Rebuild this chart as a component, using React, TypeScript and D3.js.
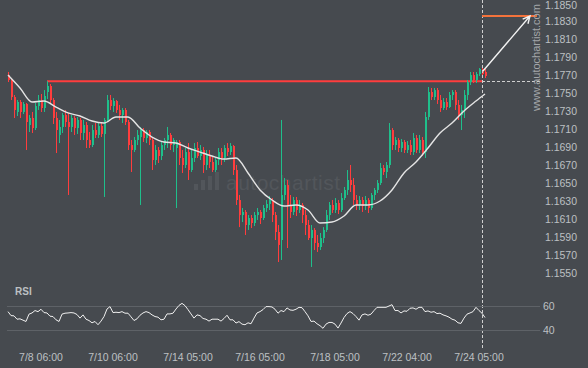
import * as d3 from "d3";

// 2h EUR/USD bars, 7/8 - 7/24
const opens = [
  1.17706, 1.17651, 1.17461, 1.17295, 1.17406, 1.17295, 1.17384, 1.1715, 1.17228, 1.17116,
  1.17361, 1.17428, 1.17339, 1.17517, 1.17584, 1.17428, 1.17228, 1.17039, 1.17128, 1.17261,
  1.17183, 1.17128, 1.17228, 1.17116, 1.17206, 1.17061, 1.1715, 1.16983, 1.16927, 1.17094,
  1.17039, 1.17139, 1.1705, 1.17206, 1.17428, 1.17361, 1.17417, 1.17317, 1.17261, 1.17317,
  1.17183, 1.16927, 1.16872, 1.16983, 1.17016, 1.17094, 1.17005, 1.17072, 1.16983, 1.1676,
  1.16872, 1.16805, 1.16927, 1.16983, 1.17039, 1.16927, 1.16894, 1.16961, 1.16783, 1.16705,
  1.16849, 1.16649, 1.16783, 1.16894, 1.16805, 1.16872, 1.16705, 1.16816, 1.16738, 1.16649,
  1.1676, 1.16849, 1.16783, 1.16894, 1.16849, 1.16916, 1.16649, 1.16315, 1.16148, 1.16182,
  1.16037, 1.16115, 1.16059, 1.16148, 1.16182, 1.16115, 1.16226, 1.16271, 1.16315, 1.16148,
  1.15959, 1.1587, 1.16371, 1.16482, 1.1626, 1.16182, 1.16315, 1.16204, 1.1626, 1.16148,
  1.16037, 1.15892, 1.15982, 1.15837, 1.15792, 1.15892, 1.15982, 1.16148, 1.1626, 1.16204,
  1.16282, 1.16204, 1.16337, 1.16427, 1.16538, 1.16482, 1.16315, 1.1626, 1.16315, 1.16248,
  1.16315, 1.16226, 1.16371, 1.16427, 1.16504, 1.16671, 1.16627, 1.16705, 1.17094, 1.16927,
  1.16983, 1.16894, 1.16961, 1.16872, 1.16927, 1.16849, 1.17005, 1.16872, 1.16983, 1.16849,
  1.17239, 1.17517, 1.17461, 1.17539, 1.17428, 1.17339, 1.17406, 1.1735, 1.17484, 1.17517,
  1.17373, 1.17261, 1.17317, 1.17484, 1.17628, 1.17706, 1.17651, 1.17717, 1.17773, 1.1774,
];
const highs = [
  1.1774, 1.17673, 1.17484, 1.17428, 1.17428, 1.17406, 1.17395, 1.17261, 1.17295, 1.17395,
  1.17484, 1.17495, 1.17539, 1.17637, 1.17606, 1.1745, 1.17295, 1.17206, 1.17284, 1.17317,
  1.17284, 1.17261, 1.1725, 1.17239, 1.17228, 1.17206, 1.17183, 1.17072, 1.1715, 1.17172,
  1.17183, 1.17172, 1.17228, 1.17484, 1.17484, 1.1745, 1.17428, 1.17373, 1.17339, 1.17339,
  1.17206, 1.16983, 1.17016, 1.17094, 1.17128, 1.17116, 1.17094, 1.17094, 1.17005, 1.16927,
  1.16905, 1.16961, 1.17005, 1.17128, 1.17061, 1.17005, 1.16983, 1.16983, 1.16872, 1.16894,
  1.16949, 1.16872, 1.16949, 1.16961, 1.16927, 1.16905, 1.16872, 1.16872, 1.16794, 1.16794,
  1.16894, 1.16894, 1.16927, 1.16949, 1.16949, 1.16927, 1.16705, 1.16371, 1.16226, 1.16204,
  1.16148, 1.16148, 1.16182, 1.16226, 1.16204, 1.1626, 1.16315, 1.1636, 1.16337, 1.16182,
  1.16037, 1.17206, 1.1656, 1.16538, 1.16371, 1.16349, 1.16349, 1.16315, 1.16282, 1.16204,
  1.16093, 1.16037, 1.16003, 1.15926, 1.15948, 1.16014, 1.16204, 1.16293, 1.16315, 1.16337,
  1.16315, 1.16393, 1.1646, 1.16649, 1.16705, 1.1656, 1.16371, 1.1636, 1.16349, 1.1636,
  1.16337, 1.16393, 1.16449, 1.16538, 1.16727, 1.16705, 1.16738, 1.17172, 1.17116, 1.17016,
  1.17005, 1.16994, 1.16983, 1.16972, 1.16983, 1.17061, 1.17039, 1.17039, 1.17016, 1.17295,
  1.17573, 1.17562, 1.17562, 1.17562, 1.17484, 1.1745, 1.1745, 1.17517, 1.17539, 1.17539,
  1.17428, 1.17373, 1.17539, 1.17651, 1.1774, 1.1774, 1.1774, 1.17784, 1.17784, 1.17773,
];
const lows = [
  1.17628, 1.17428, 1.17228, 1.1725, 1.17228, 1.17272, 1.16872, 1.17072, 1.17061, 1.17094,
  1.17317, 1.17295, 1.17295, 1.17439, 1.17384, 1.17161, 1.16838, 1.16949, 1.17061, 1.17128,
  1.16371, 1.17072, 1.17039, 1.1705, 1.16983, 1.16983, 1.16894, 1.16894, 1.16905, 1.17005,
  1.17005, 1.17016, 1.16349, 1.17183, 1.17317, 1.17295, 1.17284, 1.17206, 1.17172, 1.1715,
  1.16872, 1.16627, 1.16849, 1.16927, 1.1626, 1.16961, 1.16949, 1.16927, 1.16649, 1.16705,
  1.16727, 1.1676, 1.16872, 1.16894, 1.16872, 1.16849, 1.16226, 1.16705, 1.16616, 1.16671,
  1.16538, 1.16627, 1.16738, 1.16783, 1.1676, 1.16616, 1.16649, 1.16671, 1.16627, 1.16627,
  1.16705, 1.16705, 1.16738, 1.16805, 1.16816, 1.16594, 1.1626, 1.16014, 1.1607, 1.15926,
  1.15982, 1.16003, 1.16026, 1.16093, 1.16048, 1.16093, 1.16182, 1.16204, 1.1607, 1.1587,
  1.15625, 1.15648, 1.16315, 1.15781, 1.16115, 1.16148, 1.16137, 1.16171, 1.16059, 1.15926,
  1.1587, 1.1557, 1.15759, 1.15737, 1.15759, 1.15837, 1.15959, 1.16093, 1.16171, 1.16171,
  1.16159, 1.16182, 1.16315, 1.16371, 1.16404, 1.1626, 1.16204, 1.16204, 1.16182, 1.16204,
  1.16171, 1.16204, 1.16315, 1.16393, 1.16482, 1.16594, 1.1656, 1.16671, 1.16872, 1.16872,
  1.16849, 1.16849, 1.16838, 1.16838, 1.16816, 1.16816, 1.16838, 1.16838, 1.16805, 1.16783,
  1.17206, 1.17428, 1.17428, 1.17384, 1.17295, 1.17317, 1.17317, 1.17339, 1.17428, 1.17317,
  1.17206, 1.17094, 1.17228, 1.17428, 1.17595, 1.17617, 1.17617, 1.17695, 1.17684, 1.17673,
];
const closes = [
  1.17651, 1.17461, 1.17317, 1.17406, 1.17295, 1.17384, 1.17183, 1.17228, 1.17116, 1.17361,
  1.17428, 1.17339, 1.17473, 1.17584, 1.17428, 1.17228, 1.17094, 1.17128, 1.17261, 1.17183,
  1.17128, 1.17228, 1.17116, 1.17206, 1.17061, 1.1715, 1.16983, 1.16927, 1.17094, 1.17039,
  1.17139, 1.1705, 1.17206, 1.17428, 1.17361, 1.17417, 1.17317, 1.17261, 1.17317, 1.17183,
  1.16927, 1.16872, 1.16983, 1.17039, 1.17094, 1.17005, 1.17072, 1.16983, 1.1676, 1.16872,
  1.16805, 1.16927, 1.16983, 1.17039, 1.16927, 1.16983, 1.16961, 1.16783, 1.16705, 1.16849,
  1.16649, 1.16783, 1.16894, 1.16805, 1.16872, 1.16705, 1.16816, 1.16738, 1.16649, 1.1676,
  1.16849, 1.16783, 1.16894, 1.16849, 1.16916, 1.16649, 1.16315, 1.16148, 1.16182, 1.16037,
  1.16115, 1.16059, 1.16148, 1.16182, 1.16115, 1.16226, 1.16271, 1.16315, 1.16148, 1.15959,
  1.15815, 1.16371, 1.16482, 1.1626, 1.16182, 1.16315, 1.16204, 1.1626, 1.16148, 1.16037,
  1.15892, 1.15982, 1.15837, 1.15792, 1.15892, 1.15982, 1.16148, 1.1626, 1.16204, 1.16282,
  1.16204, 1.16337, 1.16427, 1.16538, 1.16482, 1.16315, 1.1626, 1.16315, 1.16248, 1.16315,
  1.16226, 1.16371, 1.16427, 1.16504, 1.16671, 1.16627, 1.16705, 1.17094, 1.16927, 1.16983,
  1.16894, 1.16961, 1.16872, 1.16927, 1.16849, 1.17005, 1.16872, 1.16983, 1.16849, 1.17239,
  1.17517, 1.17461, 1.17539, 1.17428, 1.17339, 1.17406, 1.1735, 1.17484, 1.17517, 1.17373,
  1.17261, 1.17317, 1.17484, 1.17628, 1.17706, 1.17651, 1.17717, 1.17773, 1.17717, 1.17695,
];
// moving average, one value every 4 bars (last one on the final bar)
const maValues = [
  1.17706, 1.17562, 1.17406, 1.17417, 1.1735, 1.17284, 1.1725, 1.17194, 1.17172, 1.17239,
  1.17239, 1.17116, 1.17016, 1.16961, 1.16949, 1.16894, 1.16849, 1.16805, 1.16771, 1.16783,
  1.16616, 1.16427, 1.16315, 1.16248, 1.1626, 1.16204, 1.16059, 1.1607, 1.16137, 1.1626,
  1.1626, 1.16304, 1.16427, 1.16616, 1.16738, 1.16894, 1.17061, 1.17172, 1.17306, 1.17417,
  1.17495,
];
const rsiValues = [
  55.3, 52.0, 51.8, 49.0, 49.3, 48.2, 47.1, 53.2, 54.2, 56.2,
  55.3, 57.3, 54.5, 54.2, 51.5, 51.2, 48.5, 47.1, 53.2, 54.0,
  54.2, 54.5, 54.2, 52.9, 49.9, 52.6, 49.0, 47.9, 46.0, 47.1,
  44.4, 47.4, 51.2, 57.5, 59.5, 54.5, 54.8, 54.5, 55.3, 54.0,
  54.0, 51.0, 47.9, 49.3, 52.3, 54.2, 55.3, 54.5, 52.6, 51.2,
  50.7, 48.5, 49.0, 53.4, 53.4, 54.0, 57.5, 60.5, 62.2, 60.3,
  57.0, 53.4, 49.9, 52.6, 52.0, 49.6, 49.0, 47.4, 49.0, 49.0,
  49.0, 47.4, 49.6, 52.3, 48.5, 48.5, 45.8, 47.0, 44.9, 44.4,
  46.0, 45.2, 49.9, 54.2, 55.3, 57.0, 59.5, 59.5, 59.2, 57.3,
  54.0, 56.2, 55.3, 58.4, 56.7, 56.4, 57.3, 58.9, 58.6, 55.3,
  51.8, 47.1, 47.4, 45.2, 43.6, 41.4, 44.9, 46.3, 46.3, 44.9,
  41.6, 45.8, 50.4, 53.7, 55.3, 53.7, 51.2, 48.2, 52.6, 53.4,
  52.3, 53.2, 56.2, 58.9, 58.9, 58.9, 58.9, 60.0, 61.1, 56.2,
  56.2, 54.2, 55.9, 55.6, 58.1, 58.4, 57.3, 58.9, 58.9, 55.3,
  55.9, 54.8, 55.3, 53.7, 54.0, 52.6, 51.8, 50.7, 49.0, 48.2,
  46.0, 45.5, 49.9, 53.2, 54.2, 55.3, 58.9, 56.2, 54.0, 50.4,
];

const timeLabels = ["7/8 06:00", "7/10 06:00", "7/14 05:00", "7/16 05:00", "7/18 05:00", "7/22 04:00", "7/24 05:00"];
const timeBars = [11, 35, 60, 84, 109, 133, 157];
const priceTicks = [
  1.155, 1.157, 1.159, 1.161, 1.163, 1.165, 1.167, 1.169,
  1.171, 1.173, 1.175, 1.177, 1.179, 1.181, 1.183, 1.185,
];
const rsiTicks = [40, 60];

const resistance = 1.17637;
const target = 1.18363;
const patternStart = 13;
const lastBar = 158;
const forecastBar = 174;

const BG = "#464a4f";
const TXT = "#bdc0c3";
const UP = "#1fbf8b";
const DOWN = "#ff3d3d";
const FONT = "'Liberation Sans', Arial, sans-serif";

export default function App() {
  const n = closes.length;
  const x = d3.scaleLinear().domain([0, n - 1]).range([8, 485]);
  const y = d3.scaleLinear().domain([1.15425, 1.18541]).range([280, 0]);
  const yRsi = d3.scaleLinear().domain([40, 60]).range([330, 306]);

  const maLine = d3
    .line<number>()
    .x((_, k) => x(Math.min(k * 4, n - 1)))
    .y((d) => y(d))
    .curve(d3.curveMonotoneX)(maValues);

  const rsiLine = d3
    .line<number>()
    .x((_, i) => x(i))
    .y((d) => yRsi(d))(rsiValues);

  // forecast arrow
  const ax0 = x(lastBar) + 1;
  const ay0 = y(closes[lastBar]) - 3;
  const ax1 = x(forecastBar);
  const ay1 = y(target);
  const ang = Math.atan2(ay1 - ay0, ax1 - ax0);
  const head = 8;
  const wing = (a: number) => [ax1 - head * Math.cos(ang + a), ay1 - head * Math.sin(ang + a)];
  const [w1x, w1y] = wing(0.45);
  const [w2x, w2y] = wing(-0.45);

  const nowX = Math.round(x(lastBar)) + 0.5;

  return (
    <svg
      width={588}
      height={368}
      style={{ position: "absolute", left: 0, top: 0, display: "block" }}
      fontFamily={FONT}
    >
      <rect width={588} height={368} fill={BG} />

      {/* faint logo */}
      <g fill="#52565b">
        {[6, 10, 14, 18].map((h, k) => (
          <rect key={k} x={194 + k * 7} y={190 - h} width={4} height={h} />
        ))}
        <text x={226} y={190} fontSize={21} letterSpacing={0.5}>
          autochartist
        </text>
      </g>

      {/* resistance level */}
      <line x1={x(patternStart)} x2={x(lastBar)} y1={y(resistance)} y2={y(resistance)} stroke={DOWN} strokeWidth={2} />

      {/* candles */}
      {closes.map((c, i) => {
        const o = opens[i];
        const up = c >= o;
        const cx = Math.round(x(i));
        const top = y(Math.max(o, c));
        const bh = Math.max(1, Math.abs(y(o) - y(c)));
        return (
          <g key={i} fill={up ? UP : DOWN}>
            <rect x={cx} y={y(highs[i])} width={1} height={y(lows[i]) - y(highs[i])} />
            <rect x={cx} y={top} width={2} height={bh} />
          </g>
        );
      })}

      <path d={maLine ?? ""} fill="none" stroke="#e4e4e4" strokeWidth={1.4} />

      {/* projection */}
      <line x1={nowX} x2={nowX} y1={0} y2={350} stroke="#d0d0d0" strokeDasharray="3,2" />
      <line x1={x(lastBar)} x2={x(forecastBar + 4)} y1={Math.round(y(resistance)) + 0.5} y2={Math.round(y(resistance)) + 0.5} stroke="#d0d0d0" strokeDasharray="3,2" />
      <line x1={x(lastBar)} x2={x(forecastBar + 2.3)} y1={y(target)} y2={y(target)} stroke="#f4733c" strokeWidth={2} />
      <path
        d={`M${ax0},${ay0}L${ax1},${ay1}M${w1x},${w1y}L${ax1},${ay1}L${w2x},${w2y}`}
        fill="none"
        stroke="#f2f2f2"
        strokeWidth={1.4}
      />

      <text
        transform={`translate(536,${y(1.1790)}) rotate(-90)`}
        textAnchor="middle"
        dy="0.35em"
        fontSize={11}
        fill="#a3a6a9"
      >
        www.autochartist.com
      </text>

      {/* price axis */}
      {priceTicks.map((p) => (
        <text key={p} x={577} y={Math.max(y(p), 5.5)} dy="0.35em" textAnchor="end" fontSize={10.5} fill={TXT}>
          {p.toFixed(4)}
        </text>
      ))}

      {/* RSI panel */}
      <text x={15} y={295} fontSize={10} fontWeight="bold" fill={TXT}>
        RSI
      </text>
      {rsiTicks.map((t) => (
        <g key={t}>
          <line x1={7} x2={540} y1={Math.round(yRsi(t)) + 0.5} y2={Math.round(yRsi(t)) + 0.5} stroke="#5e6267" />
          <text x={543} y={yRsi(t)} dy="0.35em" fontSize={10.5} fill={TXT}>
            {t}
          </text>
        </g>
      ))}
      <path d={rsiLine ?? ""} fill="none" stroke="#f0f0f0" strokeWidth={1} />

      {/* time axis */}
      {timeLabels.map((t, k) => (
        <text key={t} x={x(timeBars[k])} y={361} textAnchor="middle" fontSize={10.5} fill={TXT}>
          {t}
        </text>
      ))}
    </svg>
  );
}
